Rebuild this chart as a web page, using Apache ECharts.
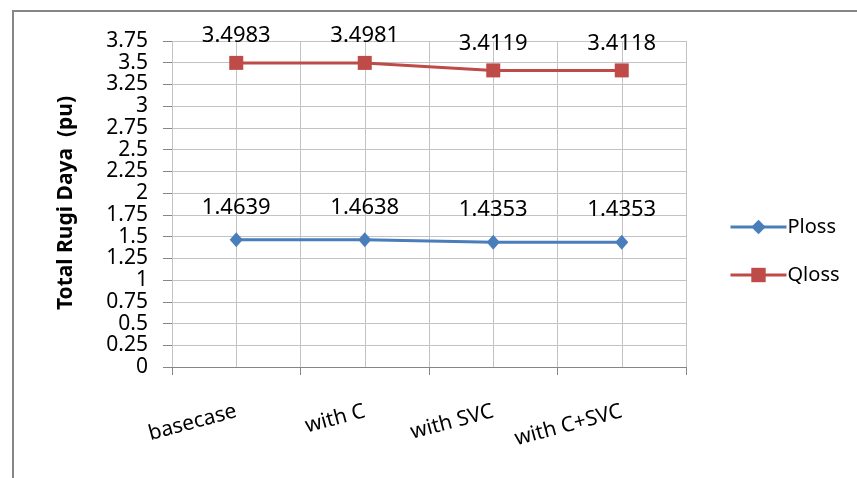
<!DOCTYPE html>
<html>
<head>
<meta charset="utf-8">
<script src="https://cdn.jsdelivr.net/npm/echarts@6/dist/echarts.min.js"></script>
<style>
  html, body { margin: 0; padding: 0; background: #fff; }
  #chart { width: 857px; height: 478px; }
</style>
</head>
<body>
<div id="chart"></div>
<script>
// data
const categories = ["basecase", "with C", "with SVC", "with C+SVC"];
const plossValues = [1.4639, 1.4638, 1.4353, 1.4353];
const qlossValues = [3.4983, 3.4981, 3.4119, 3.4118];
const plossLabels = ["1.4639", "1.4638", "1.4353", "1.4353"];
const qlossLabels = ["3.4983", "3.4981", "3.4119", "3.4118"];
const yMax = 3.75;
const yStep = 0.25;

const font = "'Noto Sans', 'DejaVu Sans', sans-serif";
const gridColor = "#c3c3c3";
const axisColor = "#868686";

const chart = echarts.init(document.getElementById("chart"), null, { renderer: "canvas" });

chart.setOption({
  animation: false,
  backgroundColor: "#fff",
  graphic: [
    {
      // outer frame (cut off at right and bottom)
      type: "rect",
      shape: { x: 13, y: 11, width: 900, height: 500 },
      style: { fill: "none", stroke: axisColor, lineWidth: 2 },
      silent: true
    },
    {
      type: "text",
      x: 66,
      y: 203,
      rotation: Math.PI / 2,
      style: {
        text: "Total Rugi Daya  (pu)",
        font: "bold 21px " + font,
        fill: "#000",
        align: "center",
        verticalAlign: "middle"
      }
    }
  ],
  grid: { left: 172, right: 171, top: 41, bottom: 111, containLabel: false },
  legend: {
    orient: "vertical",
    left: 724,
    top: 212,
    itemWidth: 56,
    itemHeight: 18,
    itemGap: 28,
    lineStyle: { width: 3 },
    textStyle: { fontFamily: font, fontSize: 20, color: "#000", padding: [0, 0, 0, -4] },
    data: ["Ploss", "Qloss"]
  },
  xAxis: [
    {
      type: "category",
      data: categories,
      boundaryGap: true,
      axisLine: { lineStyle: { color: axisColor, width: 1 } },
      axisTick: { show: true, length: 8, lineStyle: { color: axisColor } },
      splitLine: { show: false },
      axisLabel: {
        rotate: 15,
        margin: 44,
        fontFamily: font,
        fontSize: 21,
        color: "#000"
      }
    },
    {
      // helper axis for Excel's gridlines at category centres and edges
      type: "value",
      min: 0,
      max: categories.length,
      interval: 0.5,
      show: true,
      axisLine: { show: false },
      axisTick: { show: false },
      axisLabel: { show: false },
      splitLine: { show: true, lineStyle: { color: gridColor, width: 1 } }
    }
  ],
  yAxis: {
    type: "value",
    min: 0,
    max: yMax,
    interval: yStep,
    axisLine: { show: false },
    axisTick: { show: true, length: 9, lineStyle: { color: axisColor } },
    splitLine: { show: true, lineStyle: { color: gridColor, width: 1 } },
    axisLabel: {
      margin: 24,
      fontFamily: font,
      fontSize: 21,
      color: "#000",
      lineHeight: 21,
      formatter: v => String(+v.toFixed(2))
    }
  },
  series: [
    {
      name: "Ploss",
      type: "line",
      xAxisIndex: 0,
      data: plossValues,
      symbol: "diamond",
      symbolSize: [13, 15],
      lineStyle: { color: "#4a7ebb", width: 3 },
      itemStyle: { color: "#4a7ebb" },
      label: {
        show: true,
        position: "top",
        distance: 14,
        fontFamily: font,
        fontSize: 22,
        color: "#000",
        formatter: p => plossLabels[p.dataIndex]
      }
    },
    {
      name: "Qloss",
      type: "line",
      xAxisIndex: 0,
      data: qlossValues,
      symbol: "rect",
      symbolSize: 14,
      lineStyle: { color: "#be4b48", width: 3 },
      itemStyle: { color: "#be4b48" },
      label: {
        show: true,
        position: "top",
        distance: 9,
        fontFamily: font,
        fontSize: 22,
        color: "#000",
        formatter: p => qlossLabels[p.dataIndex]
      }
    }
  ]
});
</script>
</body>
</html>
